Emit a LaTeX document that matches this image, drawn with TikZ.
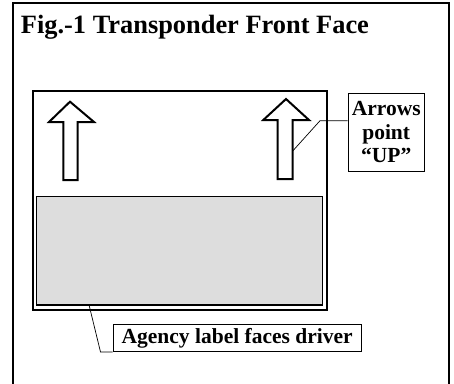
\documentclass[tikz,border=0pt]{standalone}
\usepackage{fontspec}
\setmainfont{Liberation Serif}
\begin{document}
\begin{tikzpicture}[x=1pt,y=-1pt,
  frameline/.style={line width=2pt,line cap=rect},
  upshape/.style={line width=2pt,line join=miter,fill=white},
  callout/.style={draw,line width=0.8pt,fill=white,inner sep=2pt,font=\bfseries\fontsize{21.5}{23.7}\selectfont},
  leader/.style={line width=0.7pt}]
\useasboundingbox (0,0) rectangle (454,383);
% outer frame (open at bottom)
\draw[frameline] (13.2,383) -- (13.2,2.8) -- (448.6,2.8) -- (448.6,383);
% title
\node[anchor=base west,inner sep=0pt,font=\bfseries\fontsize{26.4}{30}\selectfont] (title) at (20.7,33.3) {Fig.-1 Transponder Front Face};
% transponder body
\node[draw,line width=2pt,anchor=north west,minimum width=293.5pt,minimum height=219pt,inner sep=0pt] (body) at (32,89.5) {};
% agency label area
\node[draw,line width=1.5pt,fill=gray!27,anchor=north west,minimum width=286pt,minimum height=108.3pt,inner sep=0pt] (agency) at (35.7,195.8) {};
% up arrows
\draw[upshape] (70,101.7) -- (94,122) -- (77.7,122) -- (77.7,180) -- (63.3,180) -- (63.3,122) -- (49,122) -- cycle;
\draw[upshape] (286,99) -- (309,120) -- (292.7,120) -- (292.7,179) -- (277.7,179) -- (277.7,120) -- (263.3,120) -- cycle;
\coordinate (arrowpt) at (292.7,151);
\coordinate (bend1) at (320,120.7);
% callouts
\node[callout,align=center,minimum width=76.5pt,minimum height=77.7pt] (uplabel) at (386.2,132.2) {Arrows\\point\\“UP”};
\node[callout,minimum width=248.5pt,minimum height=27.5pt] (agencylabel) at (237.2,337.8) {Agency label faces driver};
\coordinate (agencypt) at (89,304.8);
\coordinate (bend2) at (100.5,351.5);
% leaders
\draw[leader] (arrowpt) -- (bend1) -- (bend1 -| uplabel.west);
\draw[leader] (agencypt) -- (bend2 |- agencylabel.south west) -- (agencylabel.south west);
\end{tikzpicture}
\end{document}
